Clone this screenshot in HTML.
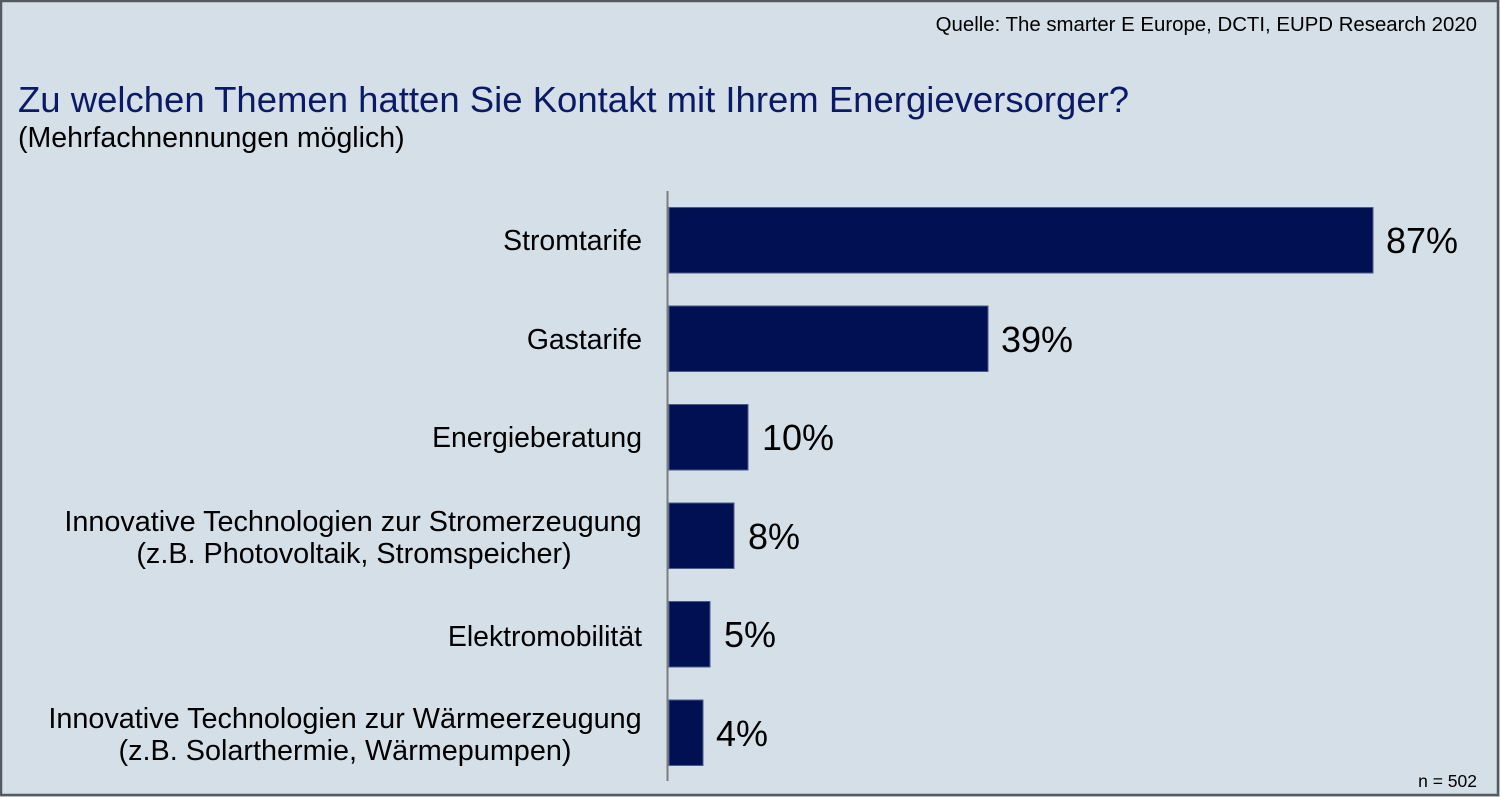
<!DOCTYPE html>
<html><head><meta charset="utf-8"><style>
html,body{margin:0;padding:0;}
body{width:1500px;height:797px;overflow:hidden;background:#d5dfe8;font-family:"Liberation Sans",Arial,sans-serif;}
svg{display:block;}
</style></head><body>
<svg width="1500" height="797" viewBox="0 0 1500 797" xmlns="http://www.w3.org/2000/svg" font-family="Liberation Sans, Arial, sans-serif">
<rect x="0" y="0" width="1500" height="797" fill="#d5dfe8"/>
<rect x="1" y="1" width="1497" height="794" fill="none" stroke="#555a60" stroke-width="2.5"/>
<text x="1477" y="31" font-size="20.4" text-anchor="end" fill="#000">Quelle: The smarter E Europe, DCTI, EUPD Research 2020</text>
<text x="18" y="112" font-size="36.5" fill="#0b1a66">Zu welchen Themen hatten Sie Kontakt mit Ihrem Energieversorger?</text>
<text x="18" y="147" font-size="28.5" fill="#000">(Mehrfachnennungen möglich)</text>
<g fill="#001052" stroke="#4a5b8a" stroke-width="1">
<rect x="669" y="207.5" width="704" height="65.5"/>
<rect x="669" y="306" width="319" height="65.5"/>
<rect x="669" y="404.5" width="79" height="65.5"/>
<rect x="669" y="503" width="65" height="65.5"/>
<rect x="669" y="601.5" width="41" height="65.5"/>
<rect x="669" y="700" width="34" height="65.5"/>
</g>
<line x1="667.5" y1="191" x2="667.5" y2="781" stroke="#7a7d80" stroke-width="2"/>
<g font-size="36" fill="#000">
<text x="1386" y="253">87%</text>
<text x="1001" y="352">39%</text>
<text x="762" y="450">10%</text>
<text x="748" y="549">8%</text>
<text x="724" y="647">5%</text>
<text x="716" y="746">4%</text>
</g>
<g font-size="28.4" fill="#000" text-anchor="end">
<text x="642" y="250">Stromtarife</text>
<text x="642" y="349">Gastarife</text>
<text x="642" y="447">Energieberatung</text>
<text x="642" y="646">Elektromobilität</text>
</g>
<g font-size="28.8" fill="#000" text-anchor="middle">
<text x="353" y="531">Innovative Technologien zur Stromerzeugung</text>
<text x="354" y="563">(z.B. Photovoltaik, Stromspeicher)</text>
<text x="345" y="728">Innovative Technologien zur Wärmeerzeugung</text>
<text x="345" y="760">(z.B. Solarthermie, Wärmepumpen)</text>
</g>
<text x="1477" y="787" font-size="17.5" text-anchor="end" fill="#000">n = 502</text>
</svg>
</body></html>
